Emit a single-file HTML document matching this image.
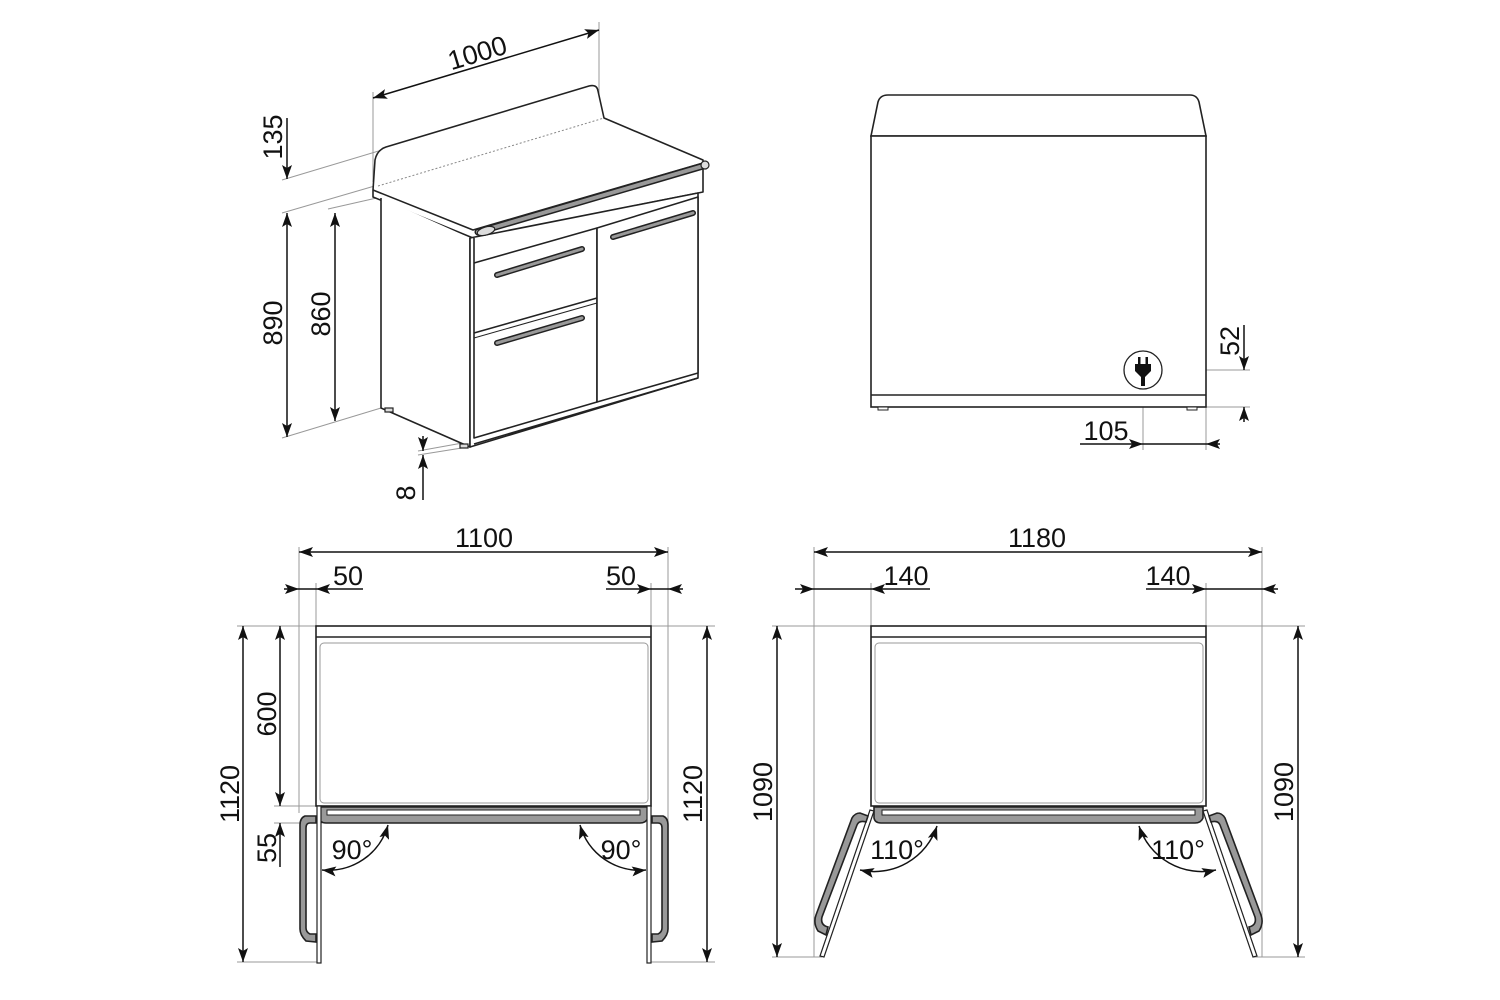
<!DOCTYPE html>
<html><head><meta charset="utf-8"><style>
html,body{margin:0;padding:0;background:#fff;}
svg{display:block;}
text{font-family:"Liberation Sans",Arial,sans-serif;font-size:27px;fill:#111;}
</style></head><body>
<svg width="1500" height="1000" viewBox="0 0 1500 1000" xmlns="http://www.w3.org/2000/svg">
<defs>
<marker id="a" viewBox="0 0 14 10" refX="14" refY="5" markerWidth="14" markerHeight="10" markerUnits="userSpaceOnUse" orient="auto-start-reverse"><path d="M0,0 L14,5 L0,10 L3,5 Z" fill="#111"/></marker>
</defs>
<g fill="none" stroke="#999" stroke-width="1">
<line x1="373" y1="92" x2="373" y2="182"/>
<line x1="599" y1="22" x2="599" y2="112"/>
<line x1="282" y1="180" x2="382" y2="150"/>
<line x1="282" y1="213" x2="378" y2="185"/>
<line x1="328" y1="209" x2="381" y2="197"/>
<line x1="282" y1="438" x2="381" y2="408"/>
<line x1="418" y1="451" x2="468" y2="442"/>
<line x1="418" y1="455" x2="468" y2="447"/>
<line x1="1163" y1="370" x2="1250" y2="370"/>
<line x1="1206" y1="407" x2="1250" y2="407"/>
<line x1="1143" y1="390" x2="1143" y2="450"/>
<line x1="1206" y1="407" x2="1206" y2="450"/>
<line x1="299" y1="547" x2="299" y2="813"/>
<line x1="316" y1="583" x2="316" y2="626"/>
<line x1="651" y1="583" x2="651" y2="626"/>
<line x1="668" y1="547" x2="668" y2="826"/>
<line x1="237" y1="626" x2="316" y2="626"/>
<line x1="651" y1="626" x2="715" y2="626"/>
<line x1="237" y1="962" x2="318" y2="962"/>
<line x1="651" y1="962" x2="715" y2="962"/>
<line x1="274" y1="806" x2="318" y2="806"/>
<line x1="274" y1="823" x2="322" y2="823"/>
<line x1="814" y1="547" x2="814" y2="957"/>
<line x1="871" y1="583" x2="871" y2="626"/>
<line x1="1206" y1="583" x2="1206" y2="626"/>
<line x1="1262" y1="547" x2="1262" y2="957"/>
<line x1="772" y1="626" x2="871" y2="626"/>
<line x1="1206" y1="626" x2="1305" y2="626"/>
<line x1="772" y1="957" x2="822" y2="957"/>
<line x1="1254" y1="957" x2="1305" y2="957"/>
</g>

<g stroke="#111" stroke-width="1.5" fill="none">
<line x1="373" y1="98" x2="599" y2="30" marker-start="url(#a)" marker-end="url(#a)"/>
<line x1="287" y1="118" x2="287" y2="179" marker-end="url(#a)"/>
<line x1="287" y1="213" x2="287" y2="437" marker-start="url(#a)" marker-end="url(#a)"/>
<line x1="335" y1="213" x2="335" y2="421" marker-start="url(#a)" marker-end="url(#a)"/>
<line x1="423" y1="436" x2="423" y2="451" marker-end="url(#a)"/>
<line x1="423" y1="500" x2="423" y2="455" marker-end="url(#a)"/>
<line x1="1244" y1="325" x2="1244" y2="370" marker-end="url(#a)"/>
<line x1="1244" y1="422" x2="1244" y2="407" marker-end="url(#a)"/>
<line x1="1080" y1="444" x2="1143" y2="444" marker-end="url(#a)"/>
<line x1="1143" y1="444" x2="1206" y2="444"/>
<line x1="1220" y1="444" x2="1206" y2="444" marker-end="url(#a)"/>
<line x1="299" y1="552" x2="668" y2="552" marker-start="url(#a)" marker-end="url(#a)"/>
<line x1="284" y1="589" x2="299" y2="589" marker-end="url(#a)"/>
<line x1="299" y1="589" x2="316" y2="589"/>
<line x1="363" y1="589" x2="316" y2="589" marker-end="url(#a)"/>
<line x1="606" y1="589" x2="651" y2="589" marker-end="url(#a)"/>
<line x1="651" y1="589" x2="668" y2="589"/>
<line x1="683" y1="589" x2="668" y2="589" marker-end="url(#a)"/>
<line x1="243" y1="626" x2="243" y2="962" marker-start="url(#a)" marker-end="url(#a)"/>
<line x1="280" y1="626" x2="280" y2="806" marker-start="url(#a)" marker-end="url(#a)"/>
<line x1="280" y1="867" x2="280" y2="823" marker-end="url(#a)"/>
<line x1="707" y1="626" x2="707" y2="962" marker-start="url(#a)" marker-end="url(#a)"/>
<line x1="814" y1="552" x2="1262" y2="552" marker-start="url(#a)" marker-end="url(#a)"/>
<line x1="795" y1="589" x2="814" y2="589" marker-end="url(#a)"/>
<line x1="814" y1="589" x2="871" y2="589"/>
<line x1="930" y1="589" x2="871" y2="589" marker-end="url(#a)"/>
<line x1="1146" y1="589" x2="1206" y2="589" marker-end="url(#a)"/>
<line x1="1206" y1="589" x2="1262" y2="589"/>
<line x1="1278" y1="589" x2="1262" y2="589" marker-end="url(#a)"/>
<line x1="777" y1="626" x2="777" y2="957" marker-start="url(#a)" marker-end="url(#a)"/>
<line x1="1298" y1="626" x2="1298" y2="957" marker-start="url(#a)" marker-end="url(#a)"/>
<path d="M322,870 A62,62 0 0 0 388,825" marker-start="url(#a)" marker-end="url(#a)"/>
<path d="M646,870 A62,62 0 0 1 580,825" marker-start="url(#a)" marker-end="url(#a)"/>
<path d="M860,870 A66,66 0 0 0 937,826" marker-start="url(#a)" marker-end="url(#a)"/>
<path d="M1216,870 A66,66 0 0 1 1139,826" marker-start="url(#a)" marker-end="url(#a)"/>
</g>

<g stroke="#222" stroke-width="1.6" fill="#fff" stroke-linejoin="round">
<path d="M373,190 L375,160 Q377,150 386,147 L589,86 Q597,84 598,91 L604,118 L703,160 L703,192 L473,238 L373,197 Z"/>
<path d="M373,190 L473,230 L703,163" fill="none"/>
<path d="M378,186 L604,118" fill="none" stroke="#888" stroke-width="1" stroke-dasharray="2,2"/>
<path d="M381,198 L381,408 L470,447 L470,238" />
<path d="M470,238 L698,193 L698,378 L470,447 Z"/>
<path d="M474,238 L474,438 L597,402 L597,228"/>
<path d="M474,263 L597,228"/>
<path d="M474,333 L597,298"/>
<path d="M474,338 L597,303" stroke-width="1"/>
<path d="M597,228 L698,197 L698,373 L597,402 Z"/>
<path d="M474,444 L698,378" fill="none"/>
</g>
<g stroke-linecap="round" fill="none">
<path d="M478,232 L703,166" stroke="#222" stroke-width="7"/>
<path d="M478,232 L703,166" stroke="#999" stroke-width="4"/>
<path d="M497,275 L582,249" stroke="#222" stroke-width="6"/>
<path d="M497,275 L582,249" stroke="#999" stroke-width="3"/>
<path d="M497,343 L582,318" stroke="#222" stroke-width="6"/>
<path d="M497,343 L582,318" stroke="#999" stroke-width="3"/>
<path d="M613,237 L693,213" stroke="#222" stroke-width="6"/>
<path d="M613,237 L693,213" stroke="#999" stroke-width="3"/>
</g>
<g fill="#ddd" stroke="#222" stroke-width="1.2">
<ellipse cx="486" cy="231" rx="9" ry="4" transform="rotate(-16 486 231)"/>
<ellipse cx="705" cy="165" rx="4" ry="4"/>
<rect x="385" y="408" width="8" height="4"/>
<rect x="460" y="444" width="8" height="4"/>
</g>

<g stroke="#222" stroke-width="1.6" fill="#fff">
<path d="M871,136 L878,102 Q880,95 888,95 L1190,95 Q1197,95 1199,102 L1206,136 Z"/>
<rect x="871" y="136" width="335" height="271"/>
<line x1="871" y1="395" x2="1206" y2="395"/>
<rect x="878" y="407" width="10" height="3" stroke-width="1"/>
<rect x="1187" y="407" width="10" height="3" stroke-width="1"/>
<circle cx="1143" cy="370" r="19" stroke-width="1.3"/>
</g>
<g fill="#111">
<rect x="1138" y="357" width="2.5" height="7"/><rect x="1145.5" y="357" width="2.5" height="7"/>
<path d="M1135,364 L1151,364 L1151,371 L1145,377 L1145,386 L1141,386 L1141,377 L1135,371 Z"/>
</g>

<g stroke="#222" stroke-width="1.6" fill="#fff">
<rect x="316" y="626" width="335" height="180"/>
<line x1="316" y1="637" x2="651" y2="637"/>
<rect x="320" y="643" width="328" height="160" rx="4" stroke="#999" stroke-width="1"/>
<path d="M319,807 L648,807 L648,818 Q646,823 640,823 L326,823 Q320,823 319,818 Z" fill="#999"/>
<path d="M327,810 L640,810 L640,815 L327,815 Z" fill="#fff" stroke-width="1"/>
<rect x="317" y="806" width="4" height="157" stroke-width="1.2"/>
<rect x="647" y="806" width="4" height="157" stroke-width="1.2"/>
<path d="M316,816 L305,816 Q300,818 300,825 L300,929 Q300,935 306,941 L316,942 L316,934 L310,934 Q306,932 306,928 L306,828 Q306,823 310,823 L316,823 Z" fill="#999"/>
<path d="M652,816 L663,816 Q668,818 668,825 L668,929 Q668,935 662,941 L652,942 L652,934 L658,934 Q662,932 662,928 L662,828 Q662,823 658,823 L652,823 Z" fill="#999"/>
</g>

<g stroke="#222" stroke-width="1.6" fill="#fff">
<rect x="871" y="626" width="335" height="180"/>
<line x1="871" y1="637" x2="1206" y2="637"/>
<rect x="875" y="643" width="328" height="160" rx="4" stroke="#999" stroke-width="1"/>
<path d="M874,807 L1203,807 L1203,818 Q1201,823 1195,823 L881,823 Q875,823 874,818 Z" fill="#999"/>
<path d="M882,810 L1195,810 L1195,815 L882,815 Z" fill="#fff" stroke-width="1"/>
<path d="M870,810 L874,811 L824,957 L820,956 Z" stroke-width="1.2"/>
<path d="M1207,810 L1203,811 L1253,957 L1257,956 Z" stroke-width="1.2"/>
<path d="M868,816 L860,813 Q855,813 852,818 L816,915 Q813,923 818,931 L826,935 L828,927 Q820,925 822,917 L857,825 Q859,820 866,822 Z" fill="#999"/>
<path d="M1209,816 L1217,813 Q1222,813 1225,818 L1261,915 Q1264,923 1259,931 L1251,935 L1249,927 Q1257,925 1255,917 L1220,825 Q1218,820 1211,822 Z" fill="#999"/>
</g>

<text x="478" y="62" text-anchor="middle" transform="rotate(-16.8 478 55)">1000</text>
<text transform="translate(282,137) rotate(-90)" text-anchor="middle">135</text>
<text transform="translate(282,323) rotate(-90)" text-anchor="middle">890</text>
<text transform="translate(330,314) rotate(-90)" text-anchor="middle">860</text>
<text transform="translate(415,493) rotate(-90)" text-anchor="middle">8</text>
<text transform="translate(1239,341) rotate(-90)" text-anchor="middle">52</text>
<text x="1106" y="440" text-anchor="middle">105</text>
<text x="484" y="547" text-anchor="middle">1100</text>
<text x="348" y="585" text-anchor="middle">50</text>
<text x="621" y="585" text-anchor="middle">50</text>
<text transform="translate(239,794) rotate(-90)" text-anchor="middle">1120</text>
<text transform="translate(276,714) rotate(-90)" text-anchor="middle">600</text>
<text transform="translate(276,848) rotate(-90)" text-anchor="middle">55</text>
<text transform="translate(702,794) rotate(-90)" text-anchor="middle">1120</text>
<text x="352" y="859" text-anchor="middle">90°</text>
<text x="621" y="859" text-anchor="middle">90°</text>
<text x="1037" y="547" text-anchor="middle">1180</text>
<text x="906" y="585" text-anchor="middle">140</text>
<text x="1168" y="585" text-anchor="middle">140</text>
<text transform="translate(772,792) rotate(-90)" text-anchor="middle">1090</text>
<text transform="translate(1293,792) rotate(-90)" text-anchor="middle">1090</text>
<text x="897" y="859" text-anchor="middle">110°</text>
<text x="1178" y="859" text-anchor="middle">110°</text>
</svg>
</body></html>
